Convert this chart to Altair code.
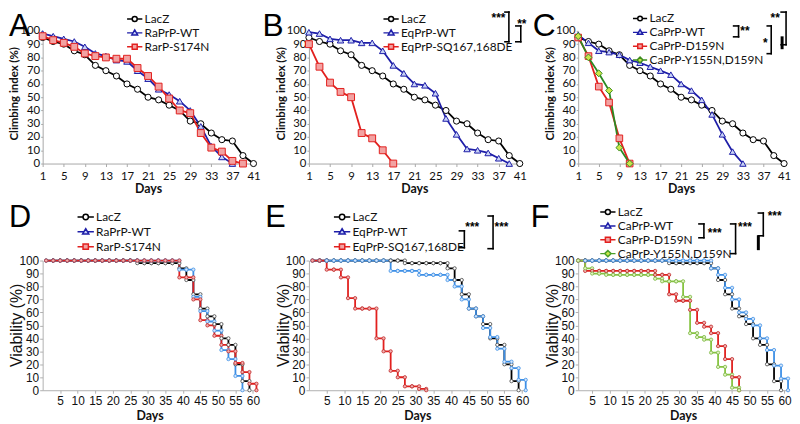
import altair as alt
import pandas as pd

# ---------------- data ----------------
climb_days = [1, 3, 5, 7, 9, 11, 13, 15, 17, 19, 21, 23, 25, 27, 29, 31, 33, 35, 37, 39, 41]
surv_days = [1, 3, 5, 7, 9, 11, 13, 15, 17, 19, 21, 23, 25, 27, 29, 31, 33, 35, 37, 39, 41,
             43, 45, 47, 49, 51, 53, 55, 57, 59, 61]
climb_ticks = [1, 5, 9, 13, 17, 21, 25, 29, 33, 37, 41]
surv_ticks = [5, 10, 15, 20, 25, 30, 35, 40, 45, 50, 55, 60]
pct_ticks = [0, 10, 20, 30, 40, 50, 60, 70, 80, 90, 100]

# climbing index (%)
lacz_climb = [95, 92, 90, 85, 82, 74, 70, 66, 60, 56, 50, 48, 44, 40, 32, 30, 23, 18, 17, 6, 0]
ra_wt_climb = [98, 96, 94, 92, 88, 83, 81, 78, 77, 70, 64, 56, 52, 47, 40, 28, 13, 5, 0]
ra_s174n_climb = [96, 93, 91, 88, 83, 81, 80, 79, 79, 72, 66, 58, 49, 40, 38, 23, 12, 9, 2, 0]
eq_wt_climb = [99, 98, 94, 93, 93, 91, 91, 85, 74, 68, 60, 59, 53, 34, 22, 11, 10, 8, 4, 0]
eq_sq_climb = [90, 73, 61, 54, 50, 23, 19, 10, 0]
ca_wt_climb = [97, 91, 85, 84, 82, 78, 76, 73, 70, 67, 60, 55, 48, 37, 22, 9, 0]
ca_d159n_climb = [95, 81, 58, 46, 19, 0]
ca_y155n_climb = [96, 80, 68, 55, 12, 0]

# viability (%)
lacz_surv = [100, 100, 100, 100, 100, 100, 100, 100, 100, 100, 100, 100, 100, 98, 98, 98, 98, 98, 98,
             94, 85, 74, 63, 57, 51, 40, 35, 20, 7, 0]
ra_wt_surv = [100, 100, 100, 100, 100, 100, 100, 100, 100, 100, 100, 100, 100, 100, 100, 100, 100, 100, 100,
              93, 93, 72, 61, 53, 46, 31, 24, 11, 0]
ra_s174n_surv = [100, 100, 100, 100, 100, 100, 100, 100, 100, 100, 100, 100, 100, 100, 100, 100, 100, 100, 100,
                 87, 87, 70, 54, 50, 42, 35, 30, 21, 14, 5, 0]
eq_wt_surv = [100, 100, 100, 100, 100, 100, 100, 100, 100, 100, 100, 92, 92, 92, 92, 89, 89, 89, 89,
              85, 80, 70, 63, 57, 48, 41, 32, 22, 17, 8, 0]
eq_sq_surv = [100, 100, 93, 93, 87, 71, 63, 63, 63, 40, 30, 15, 10, 3, 3, 1, 0]
ca_wt_surv = [100, 100, 100, 100, 100, 100, 100, 100, 100, 100, 100, 100, 100, 100, 100, 100, 100, 100, 100,
              94, 89, 79, 70, 60, 55, 50, 40, 31, 19, 9, 0]
ca_d159n_surv = [100, 92, 92, 92, 92, 92, 92, 92, 92, 92, 92, 89, 89, 74, 69, 69, 62, 52, 49, 44, 34, 24, 10, 0]
ca_y155n_surv = [100, 94, 90, 90, 89, 89, 89, 89, 89, 89, 89, 86, 84, 84, 84, 72, 44, 41, 39, 29, 18, 12, 2, 0]

a_names = ["LacZ", "RaPrP-WT", "RarP-S174N"]
b_names = ["LacZ", "EqPrP-WT", "EqPrP-SQ167,168DE"]
c_names = ["LacZ", "CaPrP-WT", "CaPrP-D159N", "CaPrP-Y155N,D159N"]

# ---------------- styles ----------------
BLACK, NAVY, RED, DGREEN = "#000000", "#1e1ea8", "#e2201e", "#2a8a22"
LBLUE, LGREEN = "#3d8fe6", "#86c440"
CAL = "Lato"
ARI = "Liberation Sans"

P_CIRCLE = "M-1.1,0L-0.36,0M0.36,0L1.1,0M-0.36,0A0.36,0.36,0,1,0,0.36,0A0.36,0.36,0,1,0,-0.36,0Z"
P_TRI = "M-1.1,0L-0.245,0M0.245,0L1.1,0M0,-0.42L0.42,0.3L-0.42,0.3Z"
P_SQ = "M-1.1,0L-0.36,0M0.36,0L1.1,0M-0.36,-0.36L0.36,-0.36L0.36,0.36L-0.36,0.36Z"
P_DIA = "M-1.1,0L-0.46,0M0.46,0L1.1,0M0,-0.46L0.46,0L0,0.46L-0.46,0Z"

one = pd.DataFrame({"k": [0]})


def long_df(names, series, days):
    rows = []
    for name, vals in zip(names, series):
        for d, v in zip(days, vals):
            rows.append({"series": name, "day": d, "v": v})
    return pd.DataFrame(rows)


def seg(x1, y1, x2, y2, w=1.6):
    return alt.Chart(one).mark_rule(color="black", strokeWidth=w, strokeCap="square").encode(
        x=alt.value(x1), x2=alt.value(x2), y=alt.value(y1), y2=alt.value(y2))


def bracket(x, y1, y2, tick=5, w=1.6):
    return [seg(x - tick, y1, x, y1, w), seg(x, y1, x, y2, w), seg(x - tick, y2, x, y2, w)]


def label(s, x, y, size=12, weight="bold", font=ARI, baseline="middle", align="center"):
    return alt.Chart(one).mark_text(text=s, fontSize=size, fontWeight=weight, font=font,
                                    baseline=baseline, align=align, color="black").encode(
        x=alt.value(x), y=alt.value(y))


def legend_layer(df, names, paths, strokes, fills, size, lx, ly, x, y):
    lg = alt.Legend(orient="none", legendX=lx, legendY=ly, title=None, labelFont=CAL,
                    labelFontSize=12, labelColor="#111111", symbolSize=size,
                    symbolStrokeWidth=1.5, rowPadding=0, padding=0, labelOffset=2, labelLimit=300)
    return alt.Chart(df).transform_filter("false").mark_point(opacity=1, strokeWidth=1.5).encode(
        x=x, y=y,
        shape=alt.Shape("series:N", scale=alt.Scale(domain=names, range=paths), legend=lg),
        stroke=alt.Stroke("series:N", scale=alt.Scale(domain=names, range=strokes), legend=lg),
        fill=alt.Fill("series:N", scale=alt.Scale(domain=names, range=fills), legend=lg),
    )


top_x_axis = alt.Axis(values=climb_ticks, title="Days", grid=False, domainColor="#a8a8a8",
                      tickColor="#a8a8a8", tickSize=3, labelFont=CAL, labelFontSize=11.5,
                      labelColor="#111111", labelPadding=4, labelFlush=False, labelOverlap=False,
                      titleFont=CAL, titleFontSize=12.5, titleFontWeight="bold", titleColor="#111111",
                      titlePadding=1)
top_y_axis = alt.Axis(values=pct_ticks, title="Climbing index (%)", grid=False, domainColor="#a8a8a8",
                      tickColor="#a8a8a8", tickSize=2, labelFont=CAL, labelFontSize=11.5,
                      labelColor="#111111", labelPadding=1, labelFlush=False,
                      titleFont=CAL, titleFontSize=11.5, titleFontWeight="bold", titleColor="#111111",
                      titleX=-28, titleY=63, titleBaseline="middle")
bot_x_axis = alt.Axis(values=surv_ticks, title="Days", grid=False, domainColor="#b0b0b0",
                      tickColor="#b0b0b0", tickSize=3, labelFont=ARI, labelFontSize=12,
                      labelColor="#111111", labelPadding=2, labelFlush=False, labelOverlap=False,
                      titleFont=CAL, titleFontSize=12.5, titleFontWeight="bold", titleColor="#111111",
                      titlePadding=4)
bot_y_axis = alt.Axis(values=pct_ticks, title="Viability (%)", grid=False, domainColor="#b0b0b0",
                      tickColor="#b0b0b0", tickSize=3, labelFont=ARI, labelFontSize=12,
                      labelColor="#111111", labelPadding=1, labelFlush=False,
                      titleFont=ARI, titleFontSize=16, titleFontWeight="normal", titleColor="#111111",
                      titleX=-26, titleY=65, titleBaseline="middle")


def top_panel(letter, letter_x, names, series, colors, shapes, mk_strokes, fills, sizes,
              lg_paths, lg_strokes, lg_fills, lg_size, lg_x, width, extras):
    df = long_df(names, series, climb_days)
    x = alt.X("day:Q", scale=alt.Scale(domain=[1, 41], nice=False, zero=False), axis=top_x_axis)
    y = alt.Y("v:Q", scale=alt.Scale(domain=[0, 100], nice=False), axis=top_y_axis)
    base = alt.Chart(df)
    lines = base.mark_line(strokeWidth=1.8).encode(
        x=x, y=y, stroke=alt.Stroke("series:N", scale=alt.Scale(domain=names, range=colors), legend=None))
    pts = base.mark_point(opacity=1, strokeWidth=1).encode(
        x=x, y=y,
        shape=alt.Shape("series:N", scale=alt.Scale(domain=names, range=shapes), legend=None),
        stroke=alt.Stroke("series:N", scale=alt.Scale(domain=names, range=mk_strokes), legend=None),
        fill=alt.Fill("series:N", scale=alt.Scale(domain=names, range=fills), legend=None),
        size=alt.Size("series:N", scale=alt.Scale(domain=names, range=sizes), legend=None))
    lg = legend_layer(df, names, lg_paths, lg_strokes, lg_fills, lg_size, lg_x, -20, x, y)
    let = label(letter, letter_x, -20, size=32, weight="normal", baseline="top", align="left")
    return alt.layer(lines, pts, lg, let, *extras).resolve_scale(
        shape="independent", stroke="independent", fill="independent", size="independent"
    ).properties(width=width, height=134)


def bottom_panel(letter, letter_x, names, series, x_domain, colors, mk_strokes, mk_fills,
                 lg_paths, lg_strokes, lg_fills, lg_size, lg_x, lg_y, width, extras):
    df = long_df(names, series, surv_days)
    x = alt.X("day:Q", scale=alt.Scale(domain=x_domain, nice=False, zero=False), axis=bot_x_axis)
    y = alt.Y("v:Q", scale=alt.Scale(domain=[0, 100], nice=False), axis=bot_y_axis)
    yp = alt.Y("prev:Q", scale=alt.Scale(domain=[0, 100], nice=False), axis=bot_y_axis)
    base = alt.Chart(df)
    lines = base.mark_line(strokeWidth=1.8, interpolate="step-after").encode(
        x=x, y=y, stroke=alt.Stroke("series:N", scale=alt.Scale(domain=names, range=colors), legend=None))
    mk_enc = dict(
        stroke=alt.Stroke("series:N", scale=alt.Scale(domain=names, range=mk_strokes), legend=None),
        fill=alt.Fill("series:N", scale=alt.Scale(domain=names, range=mk_fills), legend=None))
    pts = base.mark_point(opacity=1, strokeWidth=0.8, shape="circle", size=11).encode(x=x, y=y, **mk_enc)
    corners = base.transform_window(
        prev="lag(v)", groupby=["series"], sort=[alt.SortField("day")]
    ).transform_filter("datum.prev != null").mark_point(
        opacity=1, strokeWidth=0.8, shape="circle", size=11).encode(x=x, y=yp, **mk_enc)
    lg = legend_layer(df, names, lg_paths, lg_strokes, lg_fills, lg_size, lg_x, lg_y, x, y)
    let = label(letter, letter_x, -58, size=31, weight="normal", baseline="top", align="left")
    return alt.layer(lines, corners, pts, lg, let, *extras).resolve_scale(
        stroke="independent", fill="independent", shape="independent"
    ).properties(width=width, height=131)


LG3 = [P_CIRCLE, P_TRI, P_SQ]
LG4 = [P_CIRCLE, P_TRI, P_SQ, P_DIA]
LG_STROKE3 = [BLACK, NAVY, RED]
LG_FILL3 = ["#ffffff", "#c8d2f6", "#f2a2a2"]
LG_STROKE4 = [BLACK, NAVY, RED, "#3c8c1e"]
LG_FILL4 = ["#ffffff", "#c8d2f6", "#f2a2a2", "#c8e64a"]

A = top_panel("A", -34, a_names, [lacz_climb, ra_wt_climb, ra_s174n_climb],
              [BLACK, NAVY, RED], ["circle", "triangle-up", "square"], [BLACK, NAVY, RED],
              ["#ffffff", "#c8d2f6", "#f2a2a2"], [38, 48, 40],
              LG3, LG_STROKE3, LG_FILL3, 196, 85, 213, [])

B = top_panel("B", -47, b_names, [lacz_climb, eq_wt_climb, eq_sq_climb],
              [BLACK, NAVY, RED], ["circle", "triangle-up", "square"], [BLACK, NAVY, RED],
              ["#ffffff", "#c8d2f6", "#f2a2a2"], [38, 48, 40],
              LG3, LG_STROKE3, LG_FILL3, 196, 75, 213,
              [label("***", 191.5, -13), *bracket(202, -19, 11, 4),
               label("**", 215, -7), *bracket(214, -5, 11, 5)])

C = top_panel("C", -46, c_names, [lacz_climb, ca_wt_climb, ca_d159n_climb, ca_y155n_climb],
              [BLACK, NAVY, RED, DGREEN], ["circle", "triangle-up", "square", "diamond"],
              [BLACK, NAVY, RED, "#3c8c1e"], ["#ffffff", "#c8d2f6", "#f2a2a2", "#c8e64a"], [38, 48, 40, 60],
              LG4, LG_STROKE4, LG_FILL4, 169, 55, 208,
              [label("**", 168.5, 0), *bracket(162, -5, 6, 5),
               label("*", 189, 12.5), *bracket(195, -5, 23, 4),
               label("**", 199, -13),
               seg(205, -19, 210, -19), seg(210, -19, 210, 14), seg(205, 14, 210, 14),
               seg(206, 7, 206, 17, 3)])

D = bottom_panel("D", -34, a_names, [lacz_surv, ra_wt_surv, ra_s174n_surv], [0, 61],
                 [BLACK, LBLUE, RED], ["#444444", LBLUE, "#c02828"], ["#ffffff", "#d6e6fa", "#f2b0b0"],
                 LG3, LG_STROKE3, LG_FILL3, 225, 35, -52.5, 216, [])

E = bottom_panel("E", -44, b_names, [lacz_surv, eq_wt_surv, eq_sq_surv], [0, 61],
                 [BLACK, LBLUE, RED], ["#444444", LBLUE, "#c02828"], ["#ffffff", "#d6e6fa", "#f2b0b0"],
                 LG3, LG_STROKE3, LG_FILL3, 225, 25, -52.5, 219,
                 [label("***", 165, -34), *bracket(157, -30, -13, 5),
                  label("***", 194.5, -34), *bracket(186, -45, -12, 5)])

F = bottom_panel("F", -48, c_names, [lacz_surv, ca_wt_surv, ca_d159n_surv, ca_y155n_surv], [1, 61],
                 [BLACK, LBLUE, RED, LGREEN], ["#444444", LBLUE, "#c02828", "#78b640"],
                 ["#ffffff", "#d6e6fa", "#f2b0b0", "#e0f2c0"],
                 LG4, [BLACK, NAVY, RED, "#4aa02a"], LG_FILL4, 196, 22, -57, 212,
                 [*bracket(127, -37, -23, 5), label("***", 138, -28),
                  *bracket(159, -37, -7, 5), label("***", 168.5, -33.5),
                  seg(182, -48, 187, -48), seg(187, -48, 187, -25), seg(182, -25, 187, -25),
                  seg(182, -24, 182, -12, 3), label("***", 198.5, -45)])

chart = alt.concat(A, B, C, D, E, F, columns=3, spacing={"row": 98, "column": 53},
                   bounds="flush", padding=0).configure_view(stroke=None)

chart.save("out.html", embed_options={"renderer": "svg", "actions": False})
